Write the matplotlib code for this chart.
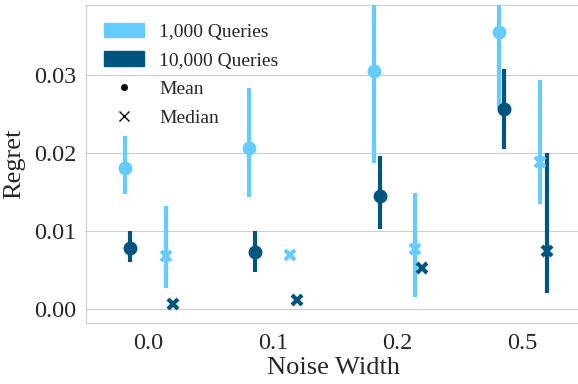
import matplotlib
matplotlib.use('Agg')
import matplotlib.pyplot as plt
import matplotlib.patches as mpatches
from matplotlib.lines import Line2D
import numpy as np
import seaborn as sns

# noise widths on the x axis
noise_labels = ['0.0', '0.1', '0.2', '0.5']

# mean regret, 1,000 queries (lower / upper interval)
mean_1k = [0.0181, 0.0206, 0.0305, 0.0355]
mean_1k_lo = [0.0147, 0.0144, 0.0187, 0.0258]
mean_1k_hi = [0.0222, 0.0283, 0.0450, 0.0480]

# mean regret, 10,000 queries
mean_10k = [0.0078, 0.0073, 0.0145, 0.0256]
mean_10k_lo = [0.0060, 0.0047, 0.0103, 0.0205]
mean_10k_hi = [0.0100, 0.0100, 0.0196, 0.0308]

# median regret, 1,000 queries
med_1k = [0.0068, 0.0069, 0.0077, 0.0188]
med_1k_lo = [0.0027, 0.0065, 0.0016, 0.0135]
med_1k_hi = [0.0132, 0.0074, 0.0149, 0.0294]

# median regret, 10,000 queries
med_10k = [0.0006, 0.0012, 0.0053, 0.0074]
med_10k_lo = [0.0004, 0.0010, 0.0050, 0.0021]
med_10k_hi = [0.0008, 0.0014, 0.0056, 0.0200]

light = '#66ccff'
dark = '#00557f'


def MAIN():
        sns.set_style('whitegrid')
        plt.rcParams['font.family'] = 'serif'
        plt.rcParams['font.serif'] = ['Liberation Serif', 'DejaVu Serif']

        fig = plt.figure(figsize=(5.78, 3.84), dpi=100)
        ax = fig.add_axes([86/578., 61/384., 1 - 86/578. + 0.005, 318/384.])

        x = np.arange(len(noise_labels))
        series = [
                (mean_1k, mean_1k_lo, mean_1k_hi, -0.19, light, 'o'),
                (mean_10k, mean_10k_lo, mean_10k_hi, -0.145, dark, 'o'),
                (med_1k, med_1k_lo, med_1k_hi, 0.14, light, 'x'),
                (med_10k, med_10k_lo, med_10k_hi, 0.195, dark, 'x'),
        ]
        for y, lo, hi, off, col, mk in series:
                y = np.array(y)
                yerr = [y - np.array(lo), np.array(hi) - y]
                if mk == 'o':
                        ax.errorbar(x + off, y, yerr=yerr, fmt='o', color=col,
                                    ms=9, elinewidth=3, capsize=0, zorder=3)
                else:
                        ax.errorbar(x + off, y, yerr=yerr, fmt='x', color=col,
                                    ms=7, mew=3, elinewidth=3, capsize=0, zorder=3)

        ax.set_xlim(-0.5, 3.47)
        ax.set_ylim(-0.0018, 0.039)
        ax.set_xticks(x)
        ax.set_xticklabels(noise_labels)
        ax.set_yticks([0.0, 0.01, 0.02, 0.03])
        ax.set_yticklabels(['0.00', '0.01', '0.02', '0.03'])
        ax.tick_params(labelsize=17.5)
        ax.grid(axis='x', visible=False)
        ax.set_xlabel('Noise Width', fontsize=19, labelpad=2)
        ax.set_ylabel('Regret', fontsize=19, labelpad=6)

        handles = [
                mpatches.Patch(color=light, label='1,000 Queries'),
                mpatches.Patch(color=dark, label='10,000 Queries'),
                Line2D([], [], color='k', marker='.', ls='none', ms=8, label='Mean'),
                Line2D([], [], color='k', marker='x', ls='none', ms=7, label='Median'),
        ]
        ax.legend(handles=handles, loc='upper left', frameon=False, fontsize=14,
                  handlelength=2.1, handleheight=0.8, borderaxespad=0.5,
                  labelspacing=0.55, handletextpad=0.75)

        fig.savefig('out.png', dpi=100)


if __name__ == '__main__':
        MAIN()
